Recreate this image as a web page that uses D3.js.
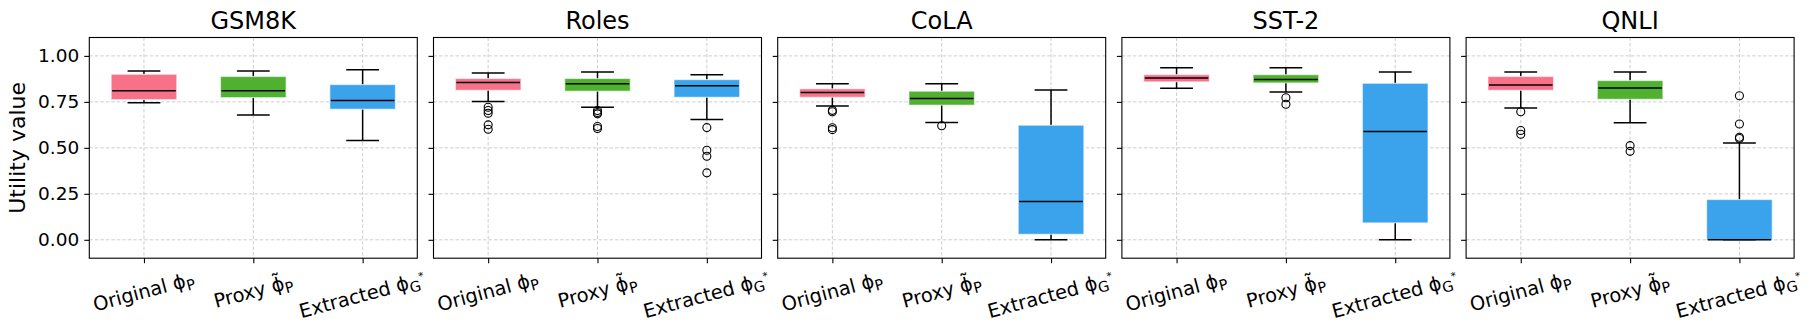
<!DOCTYPE html>
<html>
<head>
<meta charset="utf-8">
<script src="https://cdn.jsdelivr.net/npm/d3@7"></script>
<style>
  html, body { margin: 0; padding: 0; background: #fff; }
  svg { display: block; font-family: "DejaVu Sans", sans-serif; }
</style>
</head>
<body>
<div id="chart"></div>
<script>
const datasets = ["GSM8K", "Roles", "CoLA", "SST-2", "QNLI"];
const methods = ["original", "proxy", "extracted"];
const methodColors = ["#f77189", "#50b131", "#3ba3ec"];
const yTicks = [0, 0.25, 0.5, 0.75, 1.0];

// box stats, one row per dataset, one entry per method
const whiskerLow = [
  [0.745, 0.679, 0.540],
  [0.752, 0.721, 0.654],
  [0.728, 0.638, 0.0],
  [0.824, 0.804, 0.0],
  [0.717, 0.636, 0.0],
];
const q1 = [
  [0.762, 0.773, 0.710],
  [0.813, 0.808, 0.775],
  [0.775, 0.732, 0.030],
  [0.859, 0.853, 0.092],
  [0.813, 0.764, 0.0],
];
const median = [
  [0.810, 0.810, 0.757],
  [0.855, 0.848, 0.837],
  [0.801, 0.768, 0.208],
  [0.880, 0.871, 0.589],
  [0.842, 0.826, 0.0],
];
const q3 = [
  [0.900, 0.888, 0.844],
  [0.877, 0.877, 0.871],
  [0.821, 0.808, 0.623],
  [0.898, 0.898, 0.851],
  [0.888, 0.866, 0.219],
];
const whiskerHigh = [
  [0.918, 0.918, 0.924],
  [0.907, 0.913, 0.897],
  [0.849, 0.849, 0.815],
  [0.935, 0.935, 0.913],
  [0.913, 0.913, 0.527],
];
const fliers = [
  [[], [], []],
  [[0.721, 0.703, 0.688, 0.625, 0.601], [0.703, 0.692, 0.685, 0.616, 0.605], [0.610, 0.487, 0.454, 0.364]],
  [[0.704, 0.696, 0.609, 0.599], [0.620], []],
  [[], [0.772, 0.737], []],
  [[0.696, 0.594, 0.574], [0.512, 0.481], [0.783, 0.630, 0.558, 0.551]],
];

const width = 1816;
const height = 334;
const panel = { left: 89.3, step: 344.2, width: 328, top: 37.5, bottom: 258.2 };

const svg = d3
  .select("#chart")
  .append("svg")
  .attr("width", width)
  .attr("height", height);

svg.append("rect").attr("width", width).attr("height", height).attr("fill", "#fff");

const y = d3.scaleLinear().domain([-0.1, 1.1]).range([panel.bottom, panel.top]);

const x = d3
  .scalePoint()
  .domain(methods)
  .range([0, panel.width])
  .padding(0.5);

const boxWidth = x.step() * 0.6;

// x tick label, written as text with sub/superscripts
function writeLabel(text, method) {
  if (method === "original") {
    text.append("tspan").text("Original ϕ");
    text.append("tspan").attr("font-size", "75%").attr("dy", 4).text("P");
  } else if (method === "proxy") {
    text.append("tspan").text("Proxy ϕ\u0303");
    text.append("tspan").attr("font-size", "75%").attr("dy", 4).text("P");
  } else {
    text.append("tspan").text("Extracted ϕ");
    text.append("tspan").attr("font-size", "75%").attr("dy", 4).text("G");
    text.append("tspan").attr("font-size", "55%").attr("dy", -10).text("*");
  }
}

datasets.forEach((name, di) => {
  const g = svg
    .append("g")
    .attr("transform", `translate(${panel.left + di * panel.step}, 0)`);

  // grid
  g.append("g")
    .selectAll("line")
    .data(yTicks)
    .enter()
    .append("line")
    .attr("x1", 0)
    .attr("x2", panel.width)
    .attr("y1", (d) => y(d))
    .attr("y2", (d) => y(d))
    .attr("stroke", "#c8c8c8")
    .attr("stroke-width", 0.9)
    .attr("stroke-dasharray", "3.5,2");

  g.append("g")
    .selectAll("line")
    .data(methods)
    .enter()
    .append("line")
    .attr("x1", (d) => x(d))
    .attr("x2", (d) => x(d))
    .attr("y1", panel.top)
    .attr("y2", panel.bottom)
    .attr("stroke", "#c8c8c8")
    .attr("stroke-width", 0.9)
    .attr("stroke-dasharray", "3.5,2");

  // boxes
  methods.forEach((m, mi) => {
    const cx = x(m);
    const lo = whiskerLow[di][mi];
    const hi = whiskerHigh[di][mi];
    const b1 = q1[di][mi];
    const b3 = q3[di][mi];
    const med = median[di][mi];

    g.append("line")
      .attr("x1", cx).attr("x2", cx)
      .attr("y1", y(b1)).attr("y2", y(lo))
      .attr("stroke", "#000").attr("stroke-width", 1.5);
    g.append("line")
      .attr("x1", cx).attr("x2", cx)
      .attr("y1", y(b3)).attr("y2", y(hi))
      .attr("stroke", "#000").attr("stroke-width", 1.5);

    [lo, hi].forEach((v) => {
      g.append("line")
        .attr("x1", cx - boxWidth / 4).attr("x2", cx + boxWidth / 4)
        .attr("y1", y(v)).attr("y2", y(v))
        .attr("stroke", "#000").attr("stroke-width", 1.5);
    });

    g.append("rect")
      .attr("x", cx - boxWidth / 2)
      .attr("y", y(b3))
      .attr("width", boxWidth)
      .attr("height", Math.max(y(b1) - y(b3), 0))
      .attr("fill", methodColors[mi])
      .attr("stroke", "rgba(255,255,255,0.55)")
      .attr("stroke-width", 1.2);

    g.append("line")
      .attr("x1", cx - boxWidth / 2 + 1).attr("x2", cx + boxWidth / 2 - 1)
      .attr("y1", y(med)).attr("y2", y(med))
      .attr("stroke", "#000").attr("stroke-width", 1.5);

    g.append("g")
      .selectAll("circle")
      .data(fliers[di][mi])
      .enter()
      .append("circle")
      .attr("cx", cx)
      .attr("cy", (d) => y(d))
      .attr("r", 4)
      .attr("fill", "none")
      .attr("stroke", "#000")
      .attr("stroke-width", 1.1);
  });

  // frame
  g.append("rect")
    .attr("x", 0)
    .attr("y", panel.top)
    .attr("width", panel.width)
    .attr("height", panel.bottom - panel.top)
    .attr("fill", "none")
    .attr("stroke", "#000")
    .attr("stroke-width", 1.1);

  // y axis
  g.append("g")
    .call(
      d3.axisLeft(y)
        .tickValues(yTicks)
        .tickSize(5)
        .tickPadding(5)
        .tickFormat((v) => (di === 0 ? d3.format(".2f")(v) : "")),
    )
    .call((a) => a.select(".domain").remove())
    .call((a) => a.selectAll(".tick line").attr("stroke", "#000").attr("stroke-width", 1.1))
    .call((a) =>
      a.selectAll(".tick text")
        .attr("fill", "#000")
        .attr("font-size", 18.5)
        .attr("font-family", "DejaVu Sans"),
    );

  // x ticks
  g.append("g")
    .attr("transform", `translate(0, ${panel.bottom})`)
    .call(d3.axisBottom(x).tickSize(5).tickFormat(""))
    .call((a) => a.select(".domain").remove())
    .call((a) => a.selectAll(".tick line").attr("stroke", "#000").attr("stroke-width", 1.1));

  methods.forEach((m) => {
    const label = g.append("g");
    const text = label
      .append("text")
      .attr("font-size", 19.4)
      .attr("fill", "#000");
    writeLabel(text, m);
    const bb = text.node().getBBox();
    const a = (15 * Math.PI) / 180;
    const rotH = bb.width * Math.sin(a) + bb.height * Math.cos(a);
    const top = panel.bottom + 9;
    label.attr(
      "transform",
      `translate(${x(m)}, ${top + rotH / 2}) rotate(-15) translate(${-(bb.x + bb.width / 2)}, ${-(bb.y + bb.height / 2)})`,
    );
  });

  // title
  g.append("text")
    .attr("x", panel.width / 2)
    .attr("y", panel.top - 8.4)
    .attr("text-anchor", "middle")
    .attr("font-size", 24)
    .attr("fill", "#000")
    .text(name);
});

svg.append("text")
  .attr("transform", `translate(25, ${(panel.top + panel.bottom) / 2}) rotate(-90)`)
  .attr("text-anchor", "middle")
  .attr("font-size", 22)
  .attr("fill", "#000")
  .text("Utility value");
</script>
</body>
</html>
